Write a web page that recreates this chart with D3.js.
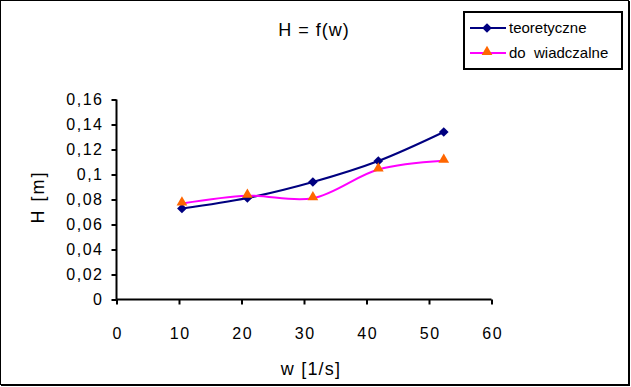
<!DOCTYPE html>
<html>
<head>
<meta charset="utf-8">
<script src="https://cdn.jsdelivr.net/npm/d3@7"></script>
<style>
  body { margin: 0; background: #fff; }
  text { font-family: 'Liberation Sans', Arial, sans-serif; fill: #000; white-space: pre; }
</style>
</head>
<body>
<script>
'use strict';

// data
const wValues = [10.47, 20.94, 31.42, 41.89, 52.36];
const teoretyczne = [0.0728, 0.0812, 0.094, 0.1108, 0.134];
const doswiadczalne = [0.0768, 0.083, 0.081, 0.104, 0.111];
const seriesNames = ['teoretyczne', 'do  wiadczalne'];
const xTicks = [0, 10, 20, 30, 40, 50, 60];
const yTicks = [0, 0.02, 0.04, 0.06, 0.08, 0.1, 0.12, 0.14, 0.16];

(function() {
  const width = 631;
  const height = 387;

  const svg = d3.select('body')
    .append('svg')
    .attr('width', width)
    .attr('height', height);

  // outer frame (thin top/left, heavier right/bottom)
  svg.append('rect')
    .attr('x', 0.5).attr('y', 0.5)
    .attr('width', width - 3).attr('height', height - 3)
    .attr('fill', 'none').attr('stroke', '#000').attr('stroke-width', 1);
  svg.append('line')
    .attr('x1', width - 2).attr('x2', width - 2).attr('y1', 1).attr('y2', height - 1)
    .attr('stroke', '#000').attr('stroke-width', 2);
  svg.append('line')
    .attr('x1', 1).attr('x2', width - 1).attr('y1', height - 2).attr('y2', height - 2)
    .attr('stroke', '#000').attr('stroke-width', 2);

  const xScale = d3.scaleLinear().domain([0, 60]).range([116.5, 491.5]);
  const yScale = d3.scaleLinear().domain([0, 0.16]).range([299.5, 99.5]);

  const fmt = d => String(d).replace('.', ',');

  // x axis
  const xAxis = d3.axisBottom(xScale).tickValues(xTicks).tickSize(5).tickPadding(23).tickFormat(d => d);
  const gx = svg.append('g')
    .attr('transform', 'translate(0,' + yScale(0) + ')')
    .call(xAxis);
  gx.selectAll('line, path').attr('stroke', '#000').attr('stroke-width', 2);
  gx.select('.domain').attr('d', 'M' + xScale(0) + ',0H' + xScale(60));
  gx.selectAll('text')
    .style('font-size', '16px')
    .style('letter-spacing', '1.5px')
    .attr('dx', '0.75px');

  // y axis
  const yAxis = d3.axisLeft(yScale).tickValues(yTicks).tickSize(5).tickPadding(8).tickFormat(fmt);
  const gy = svg.append('g')
    .attr('transform', 'translate(' + xScale(0) + ',0)')
    .call(yAxis);
  gy.selectAll('line, path').attr('stroke', '#000').attr('stroke-width', 2);
  gy.select('.domain').attr('d', 'M0,' + yScale(0.16) + 'V' + yScale(0));
  gy.selectAll('text')
    .style('font-size', '16px')
    .style('letter-spacing', '1.5px');

  // title and axis labels
  svg.append('text')
    .attr('x', 314).attr('y', 36)
    .attr('text-anchor', 'middle')
    .style('font-size', '18px')
    .style('letter-spacing', '1px')
    .text('H = f(w)');

  svg.append('text')
    .attr('x', 311).attr('y', 375)
    .attr('text-anchor', 'middle')
    .style('font-size', '18px')
    .style('letter-spacing', '1.2px')
    .text('w [1/s]');

  svg.append('text')
    .attr('transform', 'translate(43.5,197)rotate(-90)')
    .attr('text-anchor', 'middle')
    .style('font-size', '18px')
    .style('letter-spacing', '2px')
    .text('H [m]');

  // smoothed lines
  const line = d3.line()
    .x(d => xScale(d[0]))
    .y(d => yScale(d[1]))
    .curve(d3.curveCatmullRom.alpha(0.5));

  const teo = wValues.map((w, i) => [w, teoretyczne[i]]);
  const dos = wValues.map((w, i) => [w, doswiadczalne[i]]);

  svg.append('path')
    .datum(teo)
    .attr('d', line)
    .attr('fill', 'none').attr('stroke', '#000080').attr('stroke-width', 2);

  svg.append('path')
    .datum(dos)
    .attr('d', line)
    .attr('fill', 'none').attr('stroke', '#ff00ff').attr('stroke-width', 2);

  const diamond = d3.symbol().type(d3.symbolDiamond2).size(60);
  const triangle = d3.symbol().type(d3.symbolTriangle).size(50);

  svg.selectAll('.dia')
    .data(teo)
    .enter()
    .append('path')
    .attr('class', 'dia')
    .attr('d', diamond)
    .attr('transform', d => 'translate(' + xScale(d[0]) + ',' + yScale(d[1]) + ')')
    .attr('fill', '#000080');

  svg.selectAll('.tri')
    .data(dos)
    .enter()
    .append('path')
    .attr('class', 'tri')
    .attr('d', triangle)
    .attr('transform', d => 'translate(' + xScale(d[0]) + ',' + (yScale(d[1]) - 1) + ')')
    .attr('fill', '#ff6600');

  // legend
  const legend = svg.append('g');
  legend.append('rect')
    .attr('x', 464).attr('y', 12)
    .attr('width', 158).attr('height', 57)
    .attr('fill', '#fff').attr('stroke', '#000').attr('stroke-width', 2);

  const rows = [
    { y: 28, color: '#000080', marker: diamond, mcolor: '#000080', dy: 0 },
    { y: 53, color: '#ff00ff', marker: triangle, mcolor: '#ff6600', dy: -1 }
  ];
  rows.forEach((r, i) => {
    legend.append('line')
      .attr('x1', 470).attr('x2', 506).attr('y1', r.y).attr('y2', r.y)
      .attr('stroke', r.color).attr('stroke-width', 2);
    legend.append('path')
      .attr('d', r.marker)
      .attr('transform', 'translate(487,' + (r.y + r.dy) + ')')
      .attr('fill', r.mcolor);
    legend.append('text')
      .attr('x', 509).attr('y', r.y + 5)
      .style('font-size', '15px')
      .text(seriesNames[i]);
  });
})();
</script>
</body>
</html>
